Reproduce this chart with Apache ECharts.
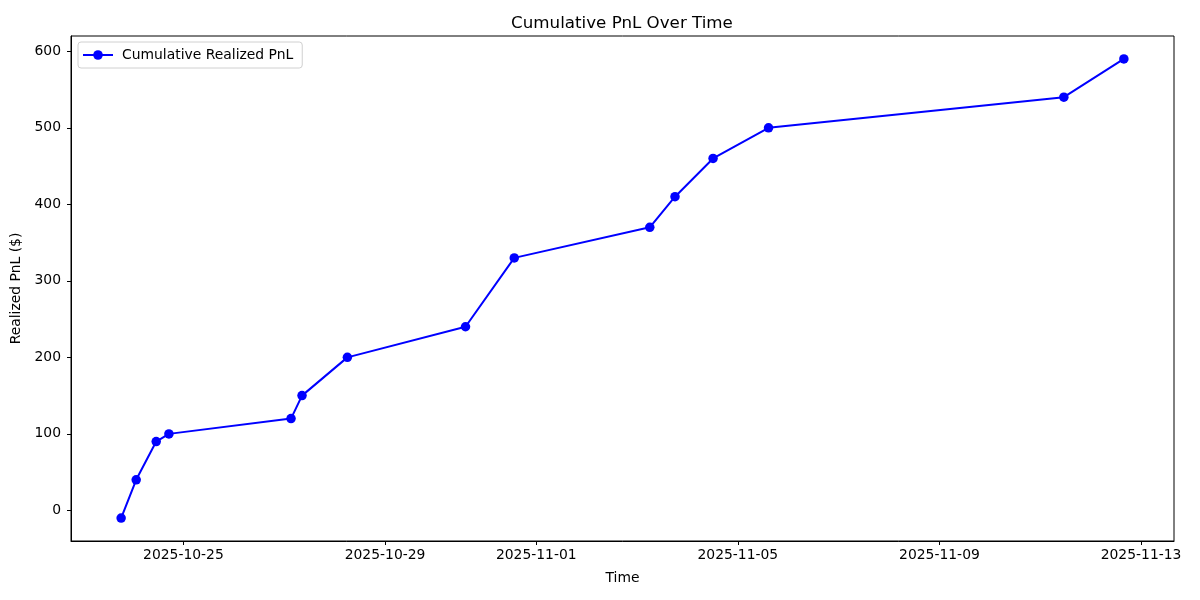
<!DOCTYPE html>
<html>
<head>
<meta charset="utf-8">
<script src="https://cdn.jsdelivr.net/npm/echarts@6/dist/echarts.min.js"></script>
<style>html,body{margin:0;padding:0;background:#fff}#c{width:1200px;height:600px}</style>
</head>
<body>
<div id="c"></div>
<script>
// Data
const times = [
  '2025-10-23T18:20:00Z','2025-10-24T01:30:00Z','2025-10-24T11:02:00Z','2025-10-24T17:05:00Z',
  '2025-10-27T03:14:00Z','2025-10-27T08:28:00Z','2025-10-28T06:04:00Z','2025-10-30T14:19:00Z',
  '2025-10-31T13:32:00Z','2025-11-03T06:04:00Z','2025-11-03T18:05:00Z','2025-11-04T12:12:00Z',
  '2025-11-05T14:37:00Z','2025-11-11T11:14:00Z','2025-11-12T15:49:00Z'
];
const pnl = [-10, 40, 90, 100, 120, 150, 200, 240, 330, 370, 410, 460, 500, 540, 590];
const xTickDates = ['2025-10-25','2025-10-29','2025-11-01','2025-11-05','2025-11-09','2025-11-13'];
const yTicks = [0, 100, 200, 300, 400, 500, 600];
const seriesName = 'Cumulative Realized PnL';

const ts = times.map(t => Date.parse(t));
const xTicks = xTickDates.map(d => Date.parse(d + 'T00:00:00Z'));
const tMin = Math.min(...ts), tMax = Math.max(...ts);
const tPad = (tMax - tMin) * 0.05;
const vMin = Math.min(...pnl), vMax = Math.max(...pnl);
const vPad = (vMax - vMin) * 0.05;

const pad2 = n => (n < 10 ? '0' : '') + n;
const fmtDate = v => { const d = new Date(v); return d.getUTCFullYear() + '-' + pad2(d.getUTCMonth() + 1) + '-' + pad2(d.getUTCDate()); };

const font = 'DejaVu Sans';
const chart = echarts.init(document.getElementById('c'), null, {renderer: 'canvas'});
chart.setOption({
  animation: false,
  backgroundColor: '#ffffff',
  title: {
    text: 'Cumulative PnL Over Time',
    left: 617, top: 10, textAlign: 'center',
    textStyle: {fontFamily: font, fontSize: 16.7, fontWeight: 'normal', color: '#000'}
  },
  legend: {
    left: 78, top: 42,
    padding: [6, 9, 6, 4],
    itemWidth: 30, itemHeight: 12, itemGap: 10,
    borderColor: '#d0d0d0', borderWidth: 1, borderRadius: 3,
    backgroundColor: 'rgba(255,255,255,0.8)',
    textStyle: {fontFamily: font, fontSize: 13.9, color: '#000', padding: [0, 0, 0, 4]},
    data: [seriesName]
  },
  grid: {
    left: 71, right: 26, top: 36, bottom: 59,
    show: true, borderColor: '#000', borderWidth: 1, backgroundColor: '#fff'
  },
  xAxis: {
    type: 'value',
    min: tMin - tPad, max: tMax + tPad,
    name: 'Time', nameLocation: 'middle', nameGap: 30,
    nameTextStyle: {fontFamily: font, fontSize: 13.9, color: '#000'},
    axisLine: {show: true, onZero: false, lineStyle: {color: '#000', width: 1}},
    axisTick: {show: true, inside: false, length: 4, lineStyle: {color: '#000', width: 1}, customValues: xTicks},
    axisLabel: {show: true, margin: 7, fontFamily: font, fontSize: 13.9, color: '#000', customValues: xTicks, formatter: v => fmtDate(v), showMinLabel: true, showMaxLabel: true},
    splitLine: {show: false}
  },
  yAxis: {
    type: 'value',
    min: vMin - vPad, max: vMax + vPad,
    name: 'Realized PnL ($)', nameLocation: 'middle', nameGap: 42, nameRotate: 90,
    nameTextStyle: {fontFamily: font, fontSize: 13.9, color: '#000'},
    axisLine: {show: true, onZero: false, lineStyle: {color: '#000', width: 1}},
    axisTick: {show: true, inside: false, length: 4, lineStyle: {color: '#000', width: 1}, customValues: yTicks},
    axisLabel: {show: true, margin: 10, fontFamily: font, fontSize: 13.9, color: '#000', customValues: yTicks},
    splitLine: {show: false}
  },
  series: [{
    name: seriesName,
    type: 'line',
    data: ts.map((t, i) => [t, pnl[i]]),
    symbol: 'circle', symbolSize: 9.5, showSymbol: true,
    lineStyle: {color: '#0000ff', width: 2},
    itemStyle: {color: '#0000ff'},
    clip: false
  }]
});
</script>
</body>
</html>
